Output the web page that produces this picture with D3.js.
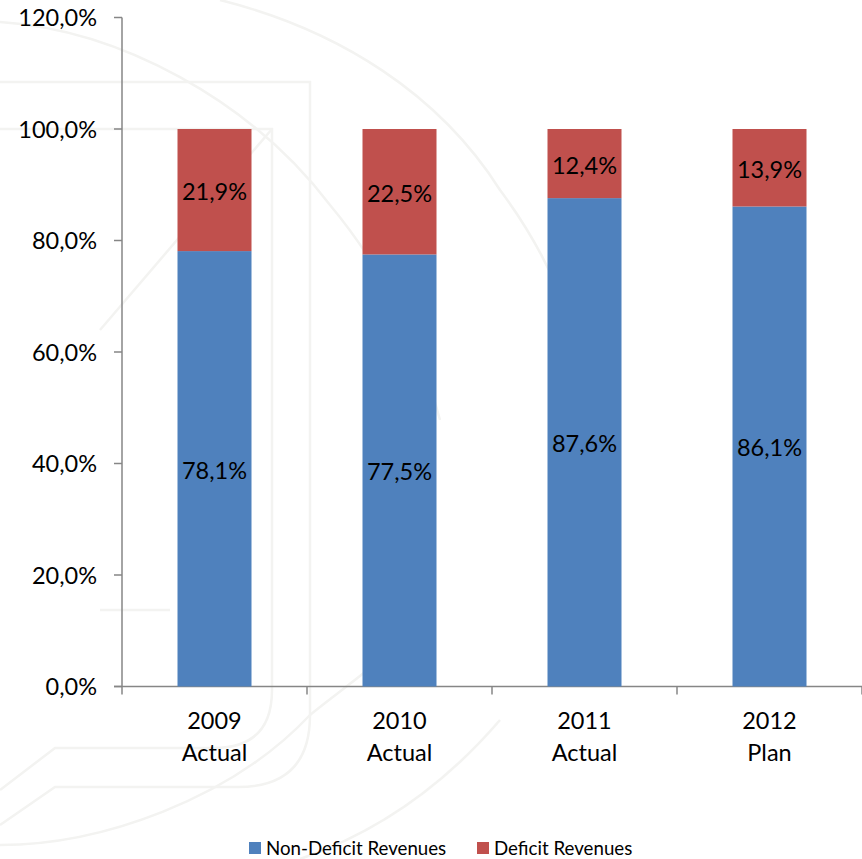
<!DOCTYPE html>
<html><head><meta charset="utf-8">
<script src="https://cdn.jsdelivr.net/npm/d3@7"></script>
<style>html,body{margin:0;padding:0;background:#fff}svg{display:block}text{font-family:Lato,"Open Sans",sans-serif;fill:#000}</style>
</head><body><svg id="c" width="862" height="859"></svg>
<script>
const categories=["2009|Actual","2010|Actual","2011|Actual","2012|Plan"];
const nonDeficit=[78.1,77.5,87.6,86.1];
const deficit=[21.9,22.5,12.4,13.9];
const yTicks=[0,20,40,60,80,100,120];
const seriesNames=["Non-Deficit Revenues","Deficit Revenues"];
const colors=["#4f81bd","#c0504d"];
const fmt=v=>v.toFixed(1).replace(".",",")+"%";

const svg=d3.select("#c");
// faint background seal outlines
const wm=svg.append("g").attr("fill","none").attr("stroke","#f3f3f1").attr("stroke-width",2.5);
[
 "M0,82H310V715Q310,787 238,787H55L0,825",
 "M0,129H272V690Q272,748 214,748H55L0,790",
 "M272,129L100,330",
 "M0,22C120,30 250,100 330,205C380,265 420,340 440,420",
 "M220,0C340,30 440,95 500,190C560,270 590,360 600,450",
 "M0,845C100,845 230,800 310,715C340,690 400,650 430,610",
 "M300,859C370,835 440,790 500,720",
 "M100,610H170"
].forEach(d=>wm.append("path").attr("d",d));

const x=d3.scaleBand().domain(categories).range([122,862]).paddingInner(0.6).paddingOuter(0.3);
const y=d3.scaleLinear().domain([0,120]).range([686.5,17.5]);
const tickX=[...categories.map(c=>x(c)-x.step()*0.3),862];

const ax=svg.append("g").attr("stroke","#868686").attr("stroke-width",1.5).attr("fill","none");
ax.append("line").attr("x1",x.range()[0]).attr("x2",x.range()[0]).attr("y1",y(120)).attr("y2",y(0));
ax.append("line").attr("x1",114).attr("x2",862).attr("y1",y(0)).attr("y2",y(0));
ax.selectAll(".t").data(yTicks).join("line").attr("x1",114).attr("x2",122).attr("y1",d=>y(d)).attr("y2",d=>y(d));
ax.selectAll(".u").data(tickX).join("line").attr("x1",d=>d).attr("x2",d=>d).attr("y1",y(0)).attr("y2",y(0)+8);

svg.selectAll(".yl").data(yTicks).join("text").attr("x",97).attr("y",d=>y(d)+8.5).attr("text-anchor","end")
  .attr("font-size",23.5).text(d=>fmt(d));

const bw=x.bandwidth();
const stack=d3.stack().keys([0,1]).value((d,k)=>d[k])(categories.map((c,i)=>[nonDeficit[i],deficit[i]]));
stack.forEach((s,k)=>{
  svg.append("g").selectAll("rect").data(s).join("rect")
    .attr("x",(d,i)=>x(categories[i])).attr("width",bw)
    .attr("y",d=>y(Math.min(d[1],100))).attr("height",d=>y(d[0])-y(Math.min(d[1],100)))
    .attr("fill",colors[k]);
  svg.append("g").selectAll("text").data(s).join("text")
    .attr("x",(d,i)=>x(categories[i])+bw/2).attr("y",d=>y((d[0]+Math.min(d[1],100))/2)+10)
    .attr("text-anchor","middle").attr("font-size",23.5)
    .text((d,i)=>fmt(k?deficit[i]:nonDeficit[i]));
});

categories.forEach(c=>{
  const [a,b]=c.split("|");
  const cx=x(c)+bw/2;
  svg.append("text").attr("x",cx).attr("y",729).attr("text-anchor","middle").attr("font-size",23.5).text(a);
  svg.append("text").attr("x",cx).attr("y",761).attr("text-anchor","middle").attr("font-size",23.5).text(b);
});

const legendX=[249,477];
seriesNames.forEach((n,i)=>{
  svg.append("rect").attr("x",legendX[i]).attr("y",842).attr("width",12).attr("height",12).attr("fill",colors[i]);
  svg.append("text").attr("x",legendX[i]+17).attr("y",854.5).attr("font-size",18.7).text(n);
});
</script></body></html>
